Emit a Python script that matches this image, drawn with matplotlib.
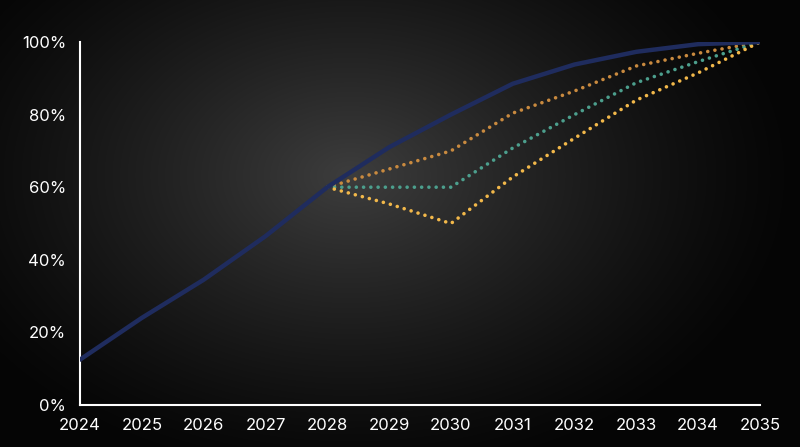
import numpy as np
import matplotlib
matplotlib.use("Agg")
import matplotlib.pyplot as plt

years = [2024, 2025, 2026, 2027, 2028, 2029, 2030, 2031, 2032, 2033, 2034, 2035]
base = [12.5, 24, 34.5, 46.5, 60, 71, 80, 88.5, 93.8, 97.3, 99.4, 100]

scen_years = [2028, 2029, 2030, 2031, 2032, 2033, 2034, 2035]
upper = [60, 65, 70, 80.4, 86.5, 93.4, 96.9, 100]
middle = [60, 60, 60, 70.8, 80, 88.8, 94.6, 100]
lower = [60, 55.4, 50, 62.8, 73.5, 84, 91.5, 100]

yticks = [0, 20, 40, 60, 80, 100]
ytick_labels = ["0%", "20%", "40%", "60%", "80%", "100%"]

plt.rcParams['font.family'] = ['Inter', 'DejaVu Sans']

W, H = 800, 447
fig = plt.figure(figsize=(W / 100, H / 100), dpi=100)
fig.patch.set_facecolor("black")

# radial gradient background
bg = fig.add_axes([0, 0, 1, 1], zorder=0)
yy, xx = np.mgrid[0:H, 0:W]
cx, cy = 350, 175
d = np.sqrt(((xx - cx) / 450.0) ** 2 + ((yy - cy) / 310.0) ** 2)
v = np.clip(1 - d, 0, 1) ** 1.25
lum = 0.02 + 0.22 * v
img = np.dstack([lum, lum, lum])
bg.imshow(img, extent=[0, 1, 0, 1], aspect="auto", origin="upper")
bg.set_xlim(0, 1)
bg.set_ylim(0, 1)
bg.axis("off")

ax = fig.add_axes([80 / W, (H - 405) / H, 680 / W, 363 / H], zorder=1)
ax.patch.set_alpha(0)

dot_style = (0, (0.01, 2.0))
ax.plot(scen_years, upper, color="#c98a3f", lw=2.6, linestyle=dot_style,
        dash_capstyle="round", zorder=2)
ax.plot(scen_years, middle, color="#4c9f8d", lw=2.6, linestyle=dot_style,
        dash_capstyle="round", zorder=2)
ax.plot(scen_years, lower, color="#f2b84a", lw=2.6, linestyle=dot_style,
        dash_capstyle="round", zorder=2)
ax.plot(years, base, color="#1f2c5e", lw=3.2, solid_capstyle="round", zorder=3)

ax.set_xlim(2024, 2035)
ax.set_ylim(0, 100)
ax.set_xticks(years)
ax.set_xticklabels([str(y) for y in years])
ax.set_yticks(yticks)
ax.set_yticklabels(ytick_labels)

for s in ["top", "right"]:
    ax.spines[s].set_visible(False)
for s in ["left", "bottom"]:
    ax.spines[s].set_color("white")
    ax.spines[s].set_linewidth(1.5)
ax.tick_params(axis="both", length=0, colors="white", labelsize=12)
ax.tick_params(axis="y", pad=10)
ax.tick_params(axis="x", pad=9)

fig.savefig("out.png", dpi=100, facecolor=fig.get_facecolor())
